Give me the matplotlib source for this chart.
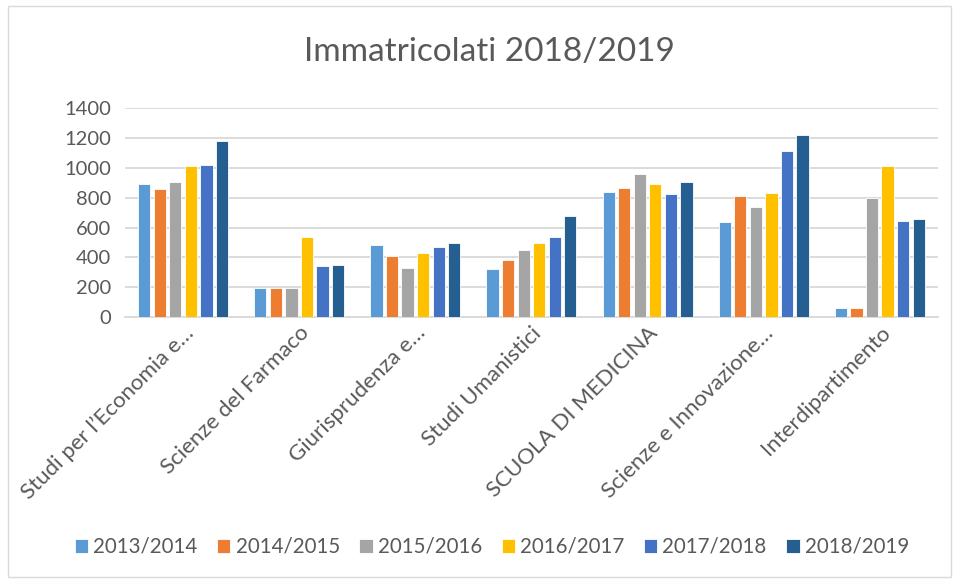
import matplotlib
matplotlib.use("Agg")
import matplotlib.pyplot as plt
import numpy as np
from matplotlib.patches import Rectangle

categories = ["Studi per l’Economia e…", "Scienze del Farmaco", "Giurisprudenza e…",
              "Studi Umanistici", "SCUOLA DI MEDICINA", "Scienze e Innovazione…",
              "Interdipartimento"]
years = ["2013/2014", "2014/2015", "2015/2016", "2016/2017", "2017/2018", "2018/2019"]
v2013 = [888, 197, 485, 325, 840, 635, 63]
v2014 = [856, 197, 408, 380, 865, 808, 63]
v2015 = [902, 195, 330, 447, 958, 737, 800]
v2016 = [1010, 535, 433, 497, 890, 830, 1010]
v2017 = [1020, 342, 467, 537, 825, 1113, 645]
v2018 = [1177, 348, 494, 680, 904, 1218, 658]
series = [v2013, v2014, v2015, v2016, v2017, v2018]
colors = ["#5B9BD5", "#ED7D31", "#A5A5A5", "#FFC000", "#4472C4", "#255E91"]
yticks = [0, 200, 400, 600, 800, 1000, 1200, 1400]

plt.rcParams['font.family'] = ['Lato', 'DejaVu Sans']
txt = "#595959"

fig = plt.figure(figsize=(9.55, 5.80), dpi=100)
ax = fig.add_axes([0.131, 0.453, 0.851, 0.361])

x = np.arange(len(categories))
step = 0.134
width = 0.105
for i, (s, c) in enumerate(zip(series, colors)):
    ax.bar(x + (i - 2.5) * step, s, width=width, color=c, label=years[i],
           edgecolor="white", linewidth=0.6, zorder=3)

ax.set_xlim(-0.5, len(categories) - 0.5)
ax.set_ylim(0, 1400)
ax.set_yticks(yticks)
ax.set_yticklabels([str(t) for t in yticks], fontsize=14.5, color=txt)
ax.yaxis.grid(True, color="#D9D9D9", linewidth=1.3, zorder=0)
ax.tick_params(axis='y', length=0, pad=10)
ax.tick_params(axis='x', length=0, pad=4)
for sp in ["top", "right", "left"]:
    ax.spines[sp].set_visible(False)
ax.spines["bottom"].set_color("#D9D9D9")
ax.spines["bottom"].set_linewidth(1.3)
ax.set_xticks(x)
ax.set_xticklabels(categories, rotation=45, ha="right", rotation_mode="anchor",
                   fontsize=16, color=txt)

fig.text(0.513, 0.91, "Immatricolati 2018/2019", ha="center", va="center",
         fontsize=24, color=txt)

leg = fig.legend(loc="center", bbox_to_anchor=(0.515, 0.057), ncol=6, frameon=False,
                 fontsize=14.8, handlelength=0.65, handleheight=0.65, handletextpad=0.25,
                 columnspacing=0.95)
for t in leg.get_texts():
    t.set_color(txt)

fig.patches.append(Rectangle((0.008, 0.005), 0.988, 0.985, transform=fig.transFigure,
                             fill=False, edgecolor="#D9D9D9", linewidth=1.0))

fig.savefig("out.png", dpi=100)
